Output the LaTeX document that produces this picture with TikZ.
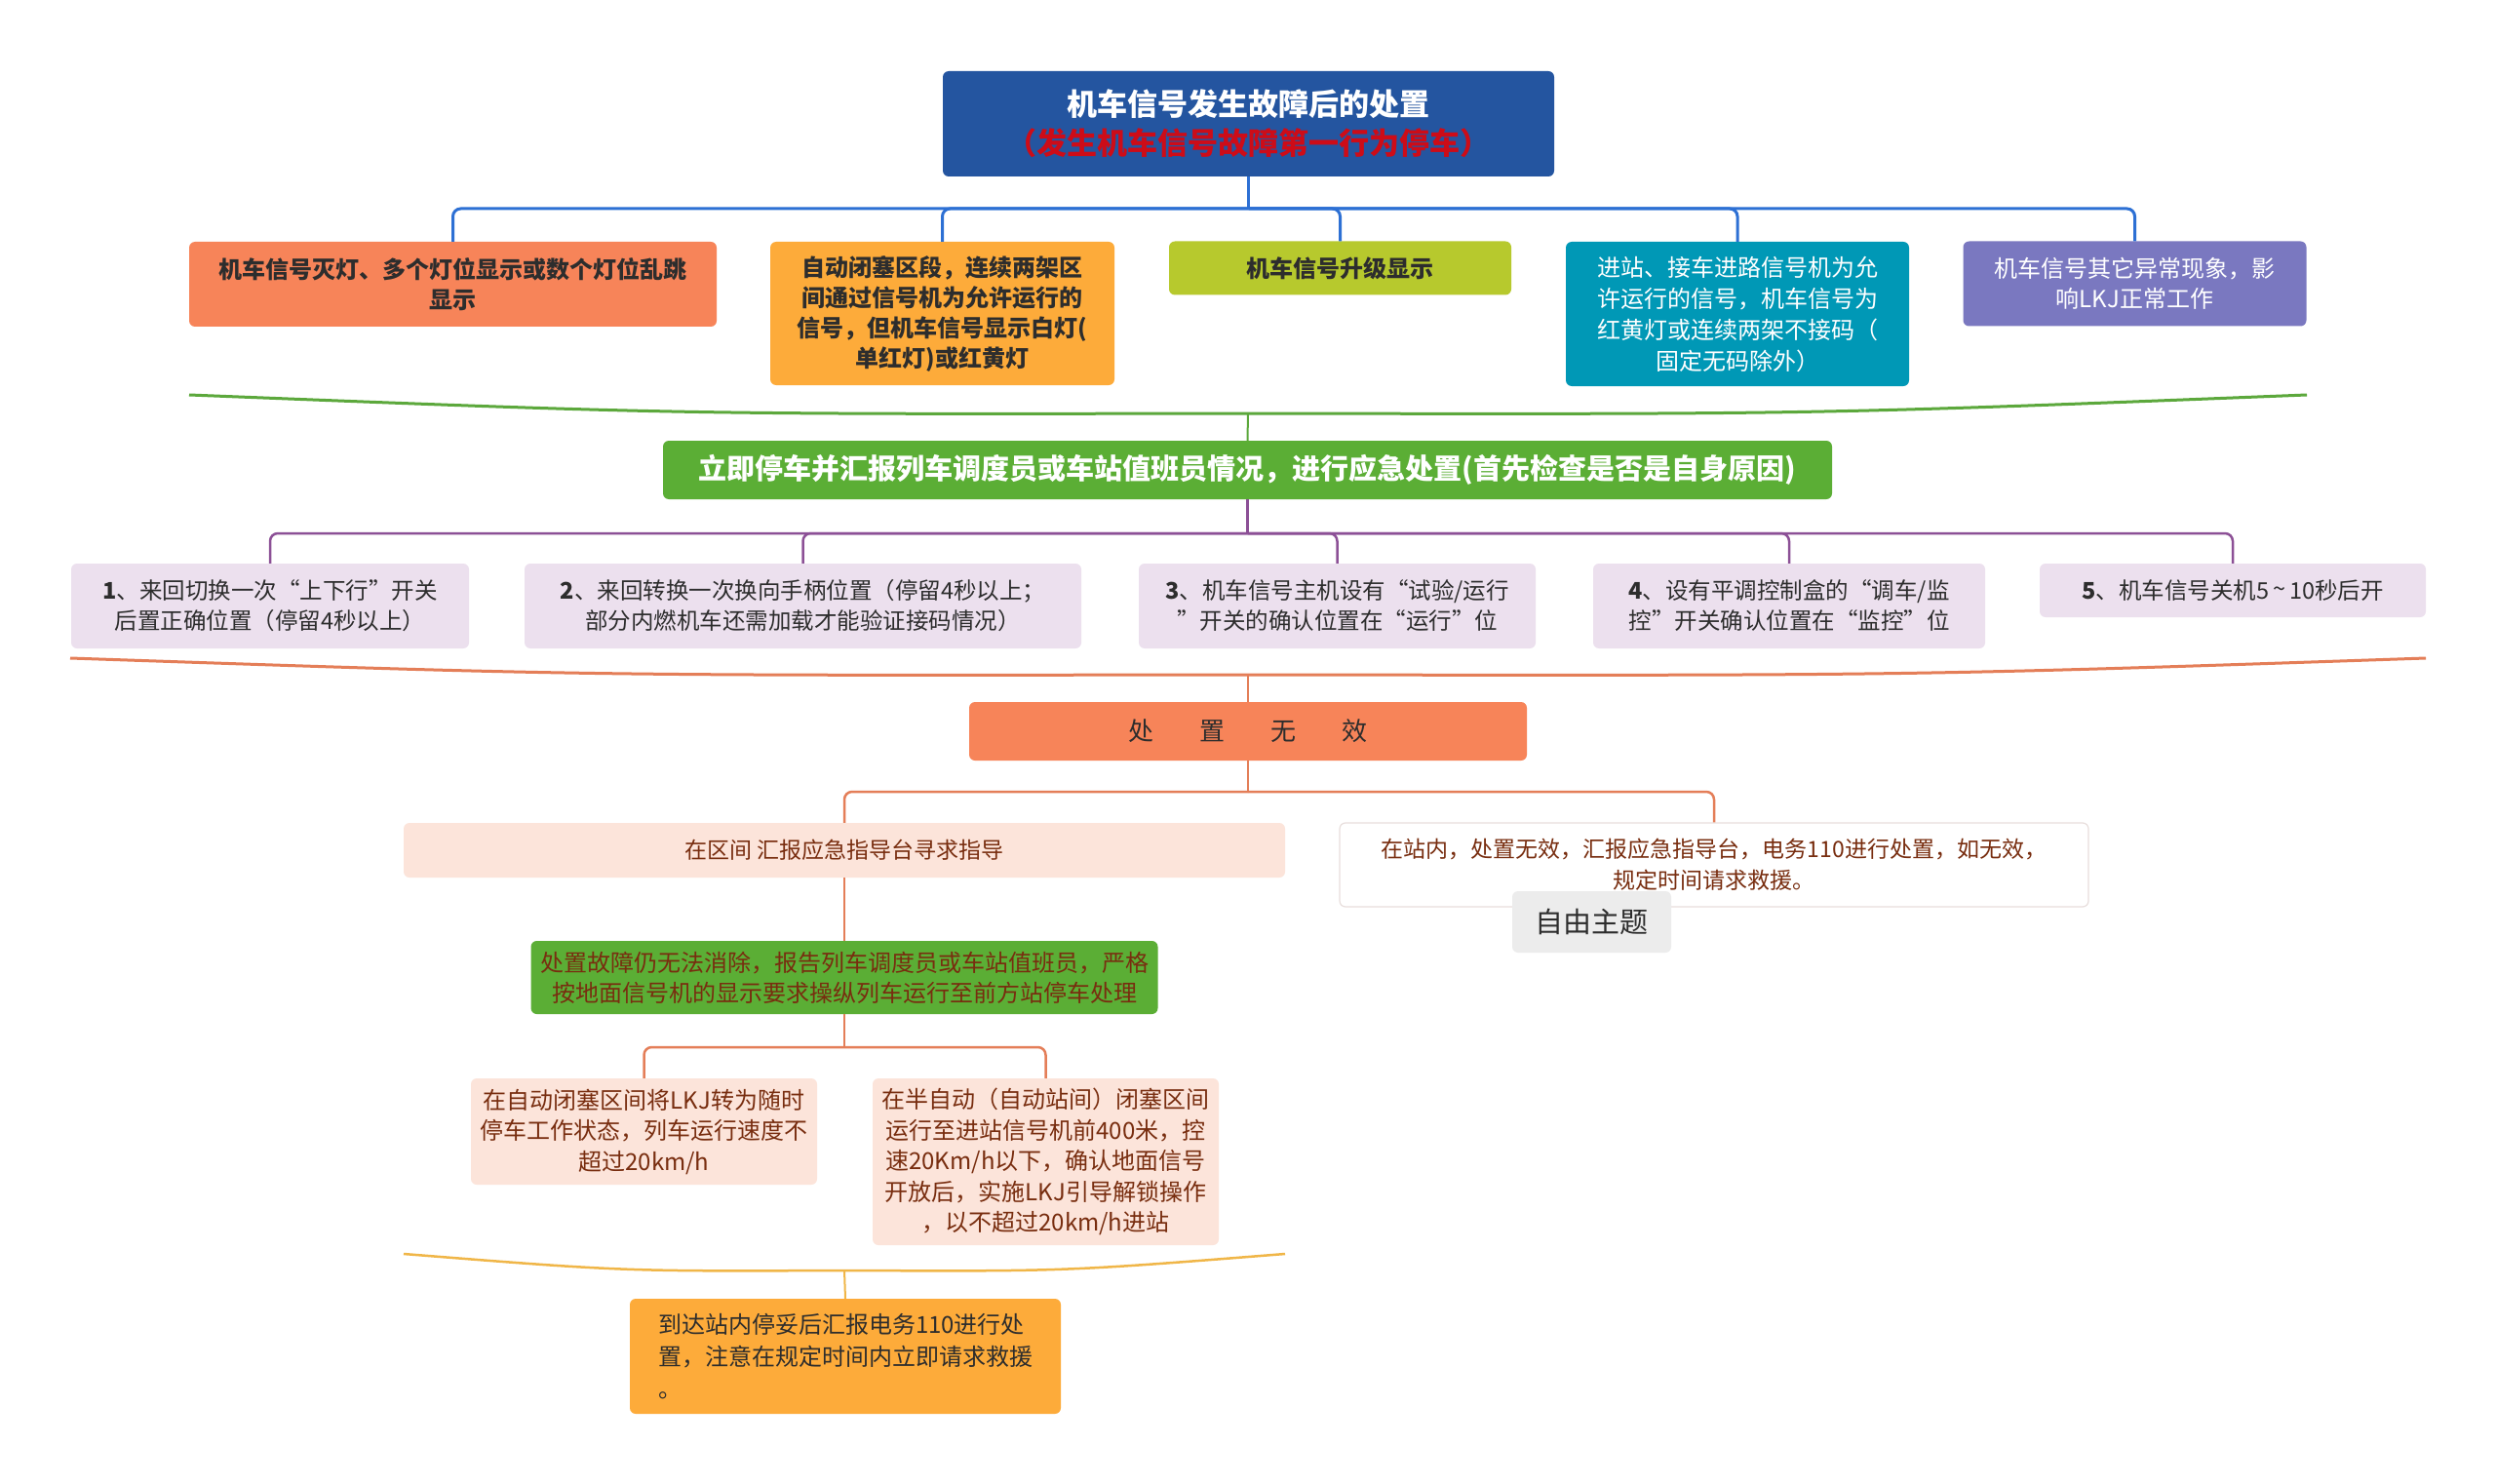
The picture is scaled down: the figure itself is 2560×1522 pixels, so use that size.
\documentclass[tikz,border=0pt]{standalone}
\usepackage{fontspec}
\setmainfont{Noto Sans CJK SC}
\definecolor{rootblue}{RGB}{36,85,160}
\definecolor{rootred}{RGB}{205,12,24}
\definecolor{busblue}{RGB}{45,112,212}
\definecolor{coral}{RGB}{247,132,89}
\definecolor{orangebox}{RGB}{253,171,58}
\definecolor{ygreen}{RGB}{183,201,45}
\definecolor{teal}{RGB}{0,152,182}
\definecolor{purplebox}{RGB}{122,120,192}
\definecolor{greenbox}{RGB}{91,174,53}
\definecolor{greenline}{RGB}{92,168,60}
\definecolor{purpleline}{RGB}{140,80,150}
\definecolor{itemfill}{RGB}{236,224,238}
\definecolor{coralline}{RGB}{228,126,88}
\definecolor{peach}{RGB}{252,228,218}
\definecolor{browntext}{RGB}{120,45,15}
\definecolor{goldline}{RGB}{240,182,72}
\definecolor{darktext}{RGB}{45,45,45}
\definecolor{freefill}{RGB}{236,236,236}
\definecolor{lightborder}{RGB}{232,222,220}
\begin{document}
\begin{tikzpicture}[x=1pt,y=-1pt,
  box/.style={rounded corners=6pt, inner sep=0pt, align=center},
  lvone/.style={box, font=\fontsize{24}{31}\selectfont\bfseries, text=darktext},
  itembox/.style={box, fill=itemfill, font=\fontsize{23.5}{31}\selectfont, text=darktext},
  midtext/.style={font=\fontsize{23}{32}\selectfont, text=browntext},
  blueln/.style={draw=busblue, line width=3pt, rounded corners=8pt},
  purpleln/.style={draw=purpleline, line width=2.5pt, rounded corners=8pt},
  coralln/.style={draw=coralline, line width=2.5pt, rounded corners=8pt}]
\fill[white] (0,0) rectangle (2560,1522);
\useasboundingbox (0,0) rectangle (2560,1522);

% root
\node[box, fill=rootblue, minimum width=627pt, minimum height=108pt,
  font=\fontsize{31}{40}\selectfont\bfseries] (root) at (1280.5,127)
  {\textcolor{white}{机车信号发生故障后的处置}\\\textcolor{rootred}{（发生机车信号故障第一行为停车）}};

% level 1
\node[lvone, fill=coral, minimum width=541pt, minimum height=87pt] (l1) at (464.5,291.5)
  {机车信号灭灯、多个灯位显示或数个灯位乱跳\\显示};
\node[lvone, fill=orangebox, minimum width=353pt, minimum height=147pt] (l2) at (966.5,321.5)
  {自动闭塞区段，连续两架区\\间通过信号机为允许运行的\\信号，但机车信号显示白灯(\\单红灯)或红黄灯};
\node[lvone, fill=ygreen, minimum width=351pt, minimum height=55pt] (l3) at (1374.5,275)
  {机车信号升级显示};
\node[box, fill=teal, text=white, font=\fontsize{24}{32}\selectfont, minimum width=352pt, minimum height=148pt] (l4) at (1782,322)
  {进站、接车进路信号机为允\\许运行的信号，机车信号为\\红黄灯或连续两架不接码（\\固定无码除外）};
\node[box, fill=purplebox, text=white, font=\fontsize{24}{31}\selectfont, minimum width=352pt, minimum height=87pt] (l5) at (2189.5,291)
  {机车信号其它异常现象，影\\响LKJ正常工作};

\coordinate (bb) at (1280.5,214);
\draw[blueln] (root.south) -- (bb);
\foreach \n in {l1,l2,l3,l4,l5} \draw[blueln] (bb) -| (\n.north);

% green summary
\coordinate (gL) at (194,405);
\coordinate (gR) at (2366,405);
\coordinate (gC) at (1280,424);
\draw[greenline, line width=3pt] (gL) .. controls (700,425) .. (gC) .. controls (1860,425) .. (gR);

\node[box, fill=greenbox, text=white, font=\fontsize{29}{34}\selectfont\bfseries, minimum width=1199pt, minimum height=60pt] (gbox) at (1279.5,482)
  {立即停车并汇报列车调度员或车站值班员情况，进行应急处置(首先检查是否是自身原因)};
\draw[greenline, line width=2pt] (gC) -- (gbox.north);

% items
\node[itembox, minimum width=408pt, minimum height=87pt] (i1) at (277,621.5)
  {{\bfseries 1}、来回切换一次“上下行”开关\\后置正确位置（停留4秒以上）};
\node[itembox, minimum width=571pt, minimum height=87pt] (i2) at (823.5,621.5)
  {{\bfseries 2}、来回转换一次换向手柄位置（停留4秒以上；\\部分内燃机车还需加载才能验证接码情况）};
\node[itembox, minimum width=407pt, minimum height=87pt] (i3) at (1371.5,621.5)
  {{\bfseries 3}、机车信号主机设有“试验/运行\\”开关的确认位置在“运行”位};
\node[itembox, minimum width=402pt, minimum height=87pt] (i4) at (1835,621.5)
  {{\bfseries 4}、设有平调控制盒的“调车/监\\控”开关确认位置在“监控”位};
\node[itembox, minimum width=396pt, minimum height=55pt] (i5) at (2290,605.5)
  {{\bfseries 5}、机车信号关机5\,\raisebox{0.1em}{\textasciitilde}\,10秒后开};

\coordinate (pb) at (1279.5,547);
\draw[purpleln] (gbox.south) -- (pb);
\foreach \n in {i1,i2,i3,i4,i5} \draw[purpleln] (pb) -| (\n.north);

% coral summary
\coordinate (cL) at (72,675);
\coordinate (cR) at (2488,675);
\coordinate (cC) at (1280,692);
\draw[coralline, line width=3pt] (cL) .. controls (600,693) .. (cC) .. controls (1960,693) .. (cR);

\node[box, fill=coral, text=darktext, font=\fontsize{26}{30}\selectfont, minimum width=572pt, minimum height=60pt] (wx) at (1280,750)
  {处\hspace{47pt}置\hspace{47pt}无\hspace{47pt}效};
\draw[coralline, line width=2pt] (cC) -- (wx.north);

% second level
\node[box, fill=peach, midtext, minimum width=904pt, minimum height=56pt] (qj) at (866,872)
  {在区间 汇报应急指导台寻求指导};
\node[box, fill=white, draw=lightborder, line width=1.2pt, midtext, minimum width=768pt, minimum height=86pt] (zn) at (1758,887)
  {在站内，处置无效，汇报应急指导台，电务110进行处置，如无效，\\规定时间请求救援。};
\node[box, fill=freefill, text=darktext, font=\fontsize{29}{34}\selectfont, minimum width=163pt, minimum height=63pt] (ff) at (1632.5,945.5)
  {自由主题};

\coordinate (cb) at (1280,812);
\draw[coralln] (wx.south) -- (cb);
\draw[coralln] (cb) -| (qj.north);
\draw[coralln] (cb) -| (zn.north);

\node[box, fill=greenbox, text=browntext, font=\fontsize{24}{31}\selectfont, minimum width=643pt, minimum height=75pt] (g2) at (866,1002.5)
  {处置故障仍无法消除，报告列车调度员或车站值班员，严格\\按地面信号机的显示要求操纵列车运行至前方站停车处理};
\draw[coralln] (qj.south) -- (g2.north);

\node[box, fill=peach, text=browntext, font=\fontsize{24}{31.5}\selectfont, minimum width=355pt, minimum height=109pt] (ba) at (660.5,1160.5)
  {在自动闭塞区间将LKJ转为随时\\停车工作状态，列车运行速度不\\超过20km/h};
\node[box, fill=peach, text=browntext, font=\fontsize{24}{31.5}\selectfont, minimum width=355pt, minimum height=171pt] (bbx) at (1072.5,1191.5)
  {在半自动（自动站间）闭塞区间\\运行至进站信号机前400米，控\\速20Km/h以下，确认地面信号\\开放后，实施LKJ引导解锁操作\\，以不超过20km/h进站};

\coordinate (cb2) at (866,1074);
\draw[coralln] (g2.south) -- (cb2);
\draw[coralln] (cb2) -| (ba.north);
\draw[coralln] (cb2) -| (bbx.north);

% gold summary
\coordinate (oL) at (414,1286);
\coordinate (oR) at (1318,1286);
\coordinate (oC) at (866,1303);
\draw[goldline, line width=2.5pt] (oL) .. controls (640,1304) .. (oC) .. controls (1092,1304) .. (oR);

\node[box, fill=orangebox, text=darktext, align=left, font=\fontsize{24}{33}\selectfont, minimum width=442pt, minimum height=118pt] (fin) at (867,1391)
  {到达站内停妥后汇报电务110进行处\\置，注意在规定时间内立即请求救援\\。};
\draw[goldline, line width=2pt] (oC) -- (fin.north);
\end{tikzpicture}
\end{document}
